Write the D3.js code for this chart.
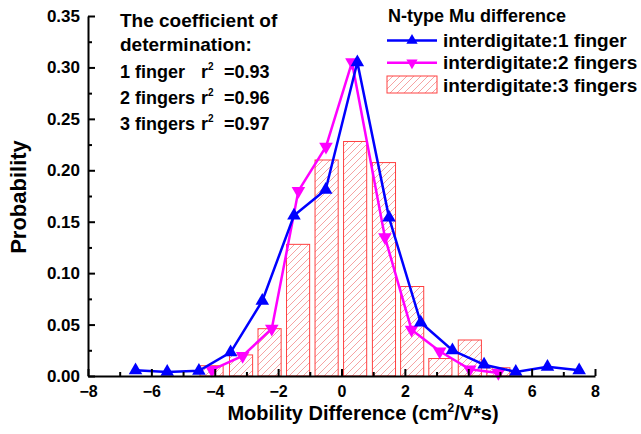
<!DOCTYPE html>
<html>
<head>
<meta charset="utf-8">
<script src="https://cdn.jsdelivr.net/npm/d3@7"></script>
<style>
  body { margin: 0; background: #fff; }
  svg text { font-family: "Liberation Sans", Arial, sans-serif; font-weight: bold; fill: #000; }
</style>
</head>
<body>
<svg id="chart" width="641" height="434"></svg>
<script>
// Mobility difference distributions (probability per bin)
const oneFingerX = [-6.5, -5.5, -4.5, -3.5, -2.5, -1.5, -0.5, 0.5, 1.5, 2.5, 3.5, 4.5, 5.5, 6.5, 7.5];
const oneFingerP = [0.0055, 0.004, 0.005, 0.023, 0.073, 0.156, 0.181, 0.305, 0.154, 0.052, 0.025, 0.011, 0.004, 0.009, 0.0055];

const twoFingersX = [-4.09, -3.12, -2.2, -1.36, -0.49, 0.33, 1.37, 2.21, 3.1, 4.05, 4.95];
const twoFingersP = [0.006, 0.0195, 0.046, 0.180, 0.223, 0.305, 0.135, 0.045, 0.024, 0.0065, 0.003];

const threeFingersX = [-4.1, -3.17, -2.27, -1.37, -0.47, 0.43, 1.34, 2.23, 3.12, 4.05, 4.95];
const threeFingersP = [0.010, 0.0205, 0.046, 0.128, 0.210, 0.228, 0.2075, 0.087, 0.017, 0.035, 0.008];

const xTicks = [-8, -6, -4, -2, 0, 2, 4, 6, 8];
const yTicks = [0, 0.05, 0.10, 0.15, 0.20, 0.25, 0.30, 0.35];

const fitLabels = ["1 finger", "2 fingers", "3 fingers"];
const fitR2 = ["0.93", "0.96", "0.97"];
const seriesNames = ["interdigitate:1 finger", "interdigitate:2 fingers", "interdigitate:3 fingers"];

const barWidth = 0.73; // in x units
const blue = "#0000ff", magenta = "#ff00ff", barStroke = "#ff4040", hatch = "#f5a3a3";
const FONT = "'Liberation Sans', Arial, sans-serif";

const svg = d3.select("#chart");
const x = d3.scaleLinear().domain([-8, 8]).range([88, 595]);
const y = d3.scaleLinear().domain([0, 0.35]).range([376, 16]);

// hatch pattern for the histogram bars
const defs = svg.append("defs");
const pat = defs.append("pattern")
  .attr("id", "hatch").attr("patternUnits", "userSpaceOnUse")
  .attr("width", 7).attr("height", 7);
pat.append("rect").attr("width", 7).attr("height", 7).attr("fill", "#fff");
pat.append("path").attr("d", "M-1,1 l2,-2 M0,7 l7,-7 M6,8 l2,-2")
  .attr("stroke", hatch).attr("stroke-width", 1);

// bars: 3 fingers
svg.append("g").selectAll("rect")
  .data(threeFingersX.map((v, i) => ({ x: v, p: threeFingersP[i] })))
  .join("rect")
  .attr("x", d => x(d.x - barWidth / 2))
  .attr("width", d => x(d.x + barWidth / 2) - x(d.x - barWidth / 2))
  .attr("y", d => y(d.p))
  .attr("height", d => y(0) - y(d.p))
  .attr("fill", "url(#hatch)")
  .attr("stroke", barStroke).attr("stroke-width", 1);

const line = d3.line().x(d => x(d.x)).y(d => y(d.p));

function drawSeries(xs, ps, color, rotate) {
  const data = xs.map((v, i) => ({ x: v, p: ps[i] }));
  svg.append("path").datum(data).attr("d", line)
    .attr("fill", "none").attr("stroke", color).attr("stroke-width", 2.5);
  svg.append("g").selectAll("path").data(data).join("path")
    .attr("d", d3.symbol().type(d3.symbolTriangle).size(80))
    .attr("transform", d => `translate(${x(d.x)},${y(d.p)}) rotate(${rotate})`)
    .attr("fill", color);
}
drawSeries(twoFingersX, twoFingersP, magenta, 180);
drawSeries(oneFingerX, oneFingerP, blue, 0);

// axes
const xAxis = svg.append("g").attr("transform", `translate(0,${y(0)})`)
  .call(d3.axisBottom(x).tickValues(xTicks).tickSize(-7).tickSizeOuter(0).tickPadding(10).tickFormat(d3.format("d")));
const xMinor = svg.append("g").attr("transform", `translate(0,${y(0)})`)
  .call(d3.axisBottom(x).tickValues(d3.range(-7, 8, 2)).tickSize(-4).tickSizeOuter(0).tickFormat(""));
const yAxis = svg.append("g").attr("transform", `translate(${x(-8)},0)`)
  .call(d3.axisLeft(y).tickValues(yTicks).tickSize(-7).tickSizeOuter(0).tickPadding(8).tickFormat(d3.format(".2f")));
const yMinor = svg.append("g").attr("transform", `translate(${x(-8)},0)`)
  .call(d3.axisLeft(y).tickValues(d3.range(0.025, 0.35, 0.05)).tickSize(-4).tickSizeOuter(0).tickFormat(""));

[xAxis, xMinor, yAxis, yMinor].forEach(g => {
  g.attr("font-family", FONT).attr("font-weight", "bold");
  g.selectAll("path.domain").attr("stroke", "#000").attr("stroke-width", 2);
  g.selectAll(".tick line").attr("stroke", "#000").attr("stroke-width", 2);
  g.selectAll(".tick text").style("font-family", FONT).style("font-weight", "bold").attr("fill", "#000");
});
xAxis.selectAll(".tick text").style("font-size", "16px");
yAxis.selectAll(".tick text").style("font-size", "17px");
xMinor.select("path.domain").remove();
yMinor.select("path.domain").remove();

// axis titles
svg.append("text")
  .attr("transform", "translate(26,197) rotate(-90)")
  .attr("text-anchor", "middle").style("font-size", "22px")
  .text("Probability");

const xt = svg.append("text").attr("x", 363).attr("y", 420)
  .attr("text-anchor", "middle").style("font-size", "20px");
xt.append("tspan").text("Mobility Difference (cm");
xt.append("tspan").attr("dy", -8).style("font-size", "12px").text("2");
xt.append("tspan").attr("dy", 8).text("/V*s)");

// coefficient of determination note
const note = svg.append("g").style("font-size", "18px");
note.append("text").attr("x", 120).attr("y", 27).style("font-size", "19px").text("The coefficient of");
note.append("text").attr("x", 120).attr("y", 51).style("font-size", "19px").text("determination:");
fitLabels.forEach((lab, i) => {
  const by = 78 + i * 26;
  note.append("text").attr("x", 120).attr("y", by).text(lab);
  const t = note.append("text").attr("x", 201).attr("y", by);
  t.append("tspan").text("r");
  t.append("tspan").attr("dy", -8).style("font-size", "10px").text("2");
  t.append("tspan").attr("x", 224).attr("dy", 8).text("=" + fitR2[i]);
});

// legend
const lg = svg.append("g");
lg.append("text").attr("x", 388).attr("y", 22).style("font-size", "18px").text("N-type Mu difference");
const rowY = [40.5, 62.7, 85];
[[blue, 0], [magenta, 180]].forEach(([c, rot], i) => {
  lg.append("line").attr("x1", 387).attr("x2", 437).attr("y1", rowY[i]).attr("y2", rowY[i])
    .attr("stroke", c).attr("stroke-width", 2.5);
  lg.append("path").attr("d", d3.symbol().type(d3.symbolTriangle).size(55))
    .attr("transform", `translate(412,${rowY[i]}) rotate(${rot})`).attr("fill", c);
});
lg.append("rect").attr("x", 387).attr("y", 76).attr("width", 50).attr("height", 17)
  .attr("fill", "url(#hatch)").attr("stroke", barStroke).attr("stroke-width", 1);
seriesNames.forEach((s, i) => {
  lg.append("text").attr("x", 443).attr("y", rowY[i] + 6.5).style("font-size", "19px").text(s);
});
</script>
</body>
</html>
